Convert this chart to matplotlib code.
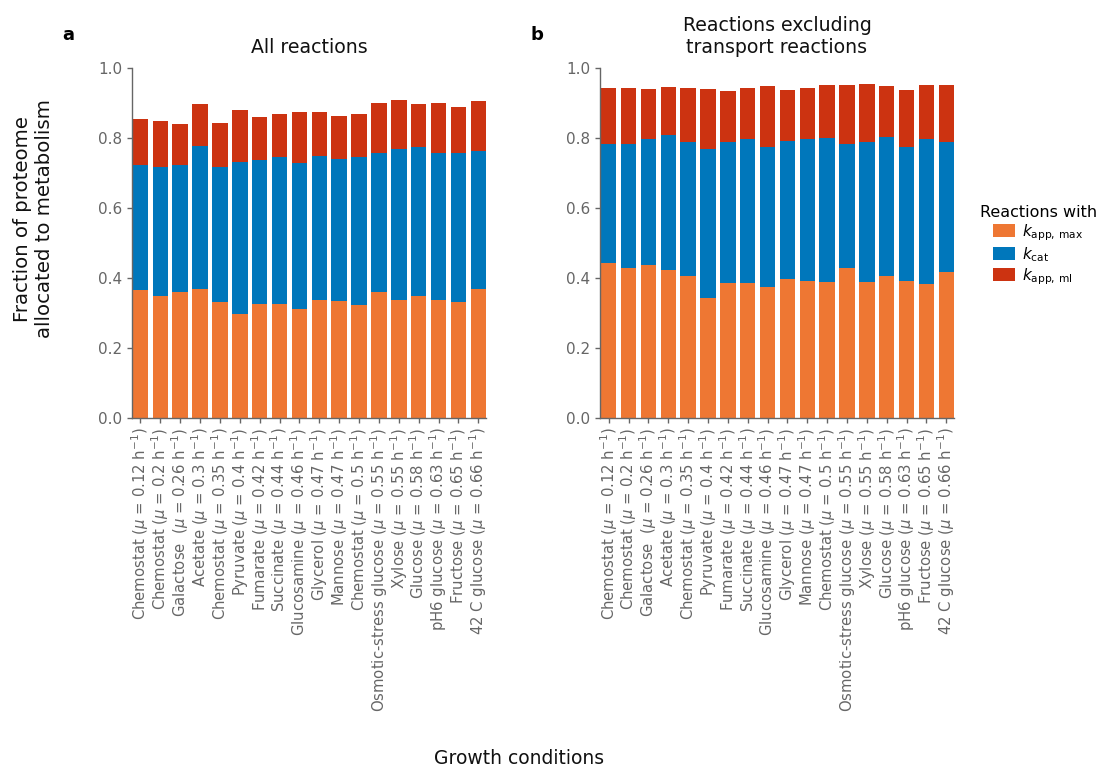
import matplotlib
matplotlib.use("Agg")
import matplotlib.pyplot as plt
import numpy as np

plt.rcParams["font.family"] = ["DejaVu Sans"]
plt.rcParams["mathtext.fontset"] = "dejavusans"

conditions = [
    r"Chemostat ($\mu$ = 0.12 h$^{-1}$)",
    r"Chemostat ($\mu$ = 0.2 h$^{-1}$)",
    r"Galactose  ($\mu$ = 0.26 h$^{-1}$)",
    r"Acetate ($\mu$ = 0.3 h$^{-1}$)",
    r"Chemostat ($\mu$ = 0.35 h$^{-1}$)",
    r"Pyruvate ($\mu$ = 0.4 h$^{-1}$)",
    r"Fumarate ($\mu$ = 0.42 h$^{-1}$)",
    r"Succinate ($\mu$ = 0.44 h$^{-1}$)",
    r"Glucosamine ($\mu$ = 0.46 h$^{-1}$)",
    r"Glycerol ($\mu$ = 0.47 h$^{-1}$)",
    r"Mannose ($\mu$ = 0.47 h$^{-1}$)",
    r"Chemostat ($\mu$ = 0.5 h$^{-1}$)",
    r"Osmotic-stress glucose ($\mu$ = 0.55 h$^{-1}$)",
    r"Xylose ($\mu$ = 0.55 h$^{-1}$)",
    r"Glucose ($\mu$ = 0.58 h$^{-1}$)",
    r"pH6 glucose ($\mu$ = 0.63 h$^{-1}$)",
    r"Fructose ($\mu$ = 0.65 h$^{-1}$)",
    r"42 C glucose ($\mu$ = 0.66 h$^{-1}$)",
]

# Panel a: all reactions (fraction per category)
all_kappmax = [0.367, 0.350, 0.361, 0.369, 0.330, 0.298, 0.326, 0.326, 0.311,
               0.336, 0.333, 0.322, 0.361, 0.336, 0.348, 0.336, 0.331, 0.369]
all_kcat = [0.356, 0.366, 0.362, 0.409, 0.386, 0.434, 0.412, 0.420, 0.417,
            0.414, 0.407, 0.423, 0.395, 0.433, 0.426, 0.422, 0.425, 0.395]
all_kappml = [0.132, 0.132, 0.117, 0.118, 0.127, 0.148, 0.122, 0.122, 0.147,
              0.123, 0.123, 0.125, 0.145, 0.139, 0.123, 0.141, 0.133, 0.142]

# Panel b: reactions excluding transport reactions
ex_kappmax = [0.442, 0.428, 0.438, 0.422, 0.406, 0.344, 0.387, 0.385, 0.373,
              0.398, 0.391, 0.388, 0.428, 0.388, 0.406, 0.391, 0.383, 0.418]
ex_kcat = [0.342, 0.356, 0.358, 0.388, 0.383, 0.425, 0.403, 0.413, 0.400,
           0.394, 0.407, 0.413, 0.354, 0.402, 0.397, 0.383, 0.413, 0.371]
ex_kappml = [0.158, 0.160, 0.144, 0.136, 0.155, 0.171, 0.145, 0.144, 0.177,
             0.146, 0.146, 0.151, 0.170, 0.164, 0.145, 0.162, 0.154, 0.163]

series_labels = [r"$k_{\mathrm{app,\,max}}$", r"$k_{\mathrm{cat}}$",
                 r"$k_{\mathrm{app,\,ml}}$"]
colors = ["#EE7733", "#0077BB", "#CC3311"]

tick_grey = "#7a7a7a"
spine_grey = "#666666"

W, H = 1099, 766
fig = plt.figure(figsize=(W / 100, H / 100), dpi=100)


def px_axes(left, top, right, bottom):
    return fig.add_axes([left / W, 1 - bottom / H, (right - left) / W,
                         (bottom - top) / H])


def stacked(ax, parts, title):
    x = np.arange(len(conditions))
    base = np.zeros(len(conditions))
    handles = []
    for vals, c, lab in zip(parts, colors, series_labels):
        h = ax.bar(x, vals, bottom=base, width=0.78, color=c, label=lab,
                   linewidth=0)
        handles.append(h)
        base = base + np.asarray(vals)
    ax.set_xticks(x)
    ax.set_xticklabels(conditions, rotation=90, fontsize=10.7, color=tick_grey)
    ax.set_ylim(0, 1.0)
    ax.set_yticks(np.arange(0, 1.01, 0.2))
    ax.set_yticklabels([f"{v:.1f}" for v in np.arange(0, 1.01, 0.2)],
                       fontsize=11, color=tick_grey)
    ax.set_xlim(-0.44, len(conditions) - 1 + 0.39)
    for s in ("top", "right"):
        ax.spines[s].set_visible(False)
    for s in ("left", "bottom"):
        ax.spines[s].set_color(spine_grey)
        ax.spines[s].set_linewidth(1.0)
    ax.tick_params(colors=spine_grey, length=3.5, width=1.0)
    ax.set_title(title, fontsize=13.6, pad=11, color="#111111")
    return handles


ax_a = px_axes(131.7, 68, 486, 418)
ax_b = px_axes(600, 68, 954, 418)

handles = stacked(ax_a, [all_kappmax, all_kcat, all_kappml], "All reactions")
stacked(ax_b, [ex_kappmax, ex_kcat, ex_kappml],
        "Reactions excluding\ntransport reactions")

fig.text(34 / W, 1 - 219 / H, "Fraction of proteome\nallocated to metabolism",
         fontsize=14.2, rotation=90, ha="center", va="center",
         multialignment="center", color="#111111")

fig.text(519 / W, 1 - 758 / H, "Growth conditions", fontsize=13.5,
         ha="center", va="center", color="#111111")

fig.text(68 / W, 1 - 35 / H, "a", fontsize=13, fontweight="bold",
         ha="center", va="center")
fig.text(537 / W, 1 - 35 / H, "b", fontsize=13, fontweight="bold",
         ha="center", va="center")

fig.legend(handles=handles, labels=series_labels,
           title="Reactions with", loc="upper left",
           bbox_to_anchor=(966 / W, 1 - 191 / H), frameon=False,
           fontsize=11, title_fontsize=11.5, handlelength=1.4,
           handleheight=0.9, handletextpad=0.5, labelspacing=0.15)

fig.savefig("out.png", dpi=100)
